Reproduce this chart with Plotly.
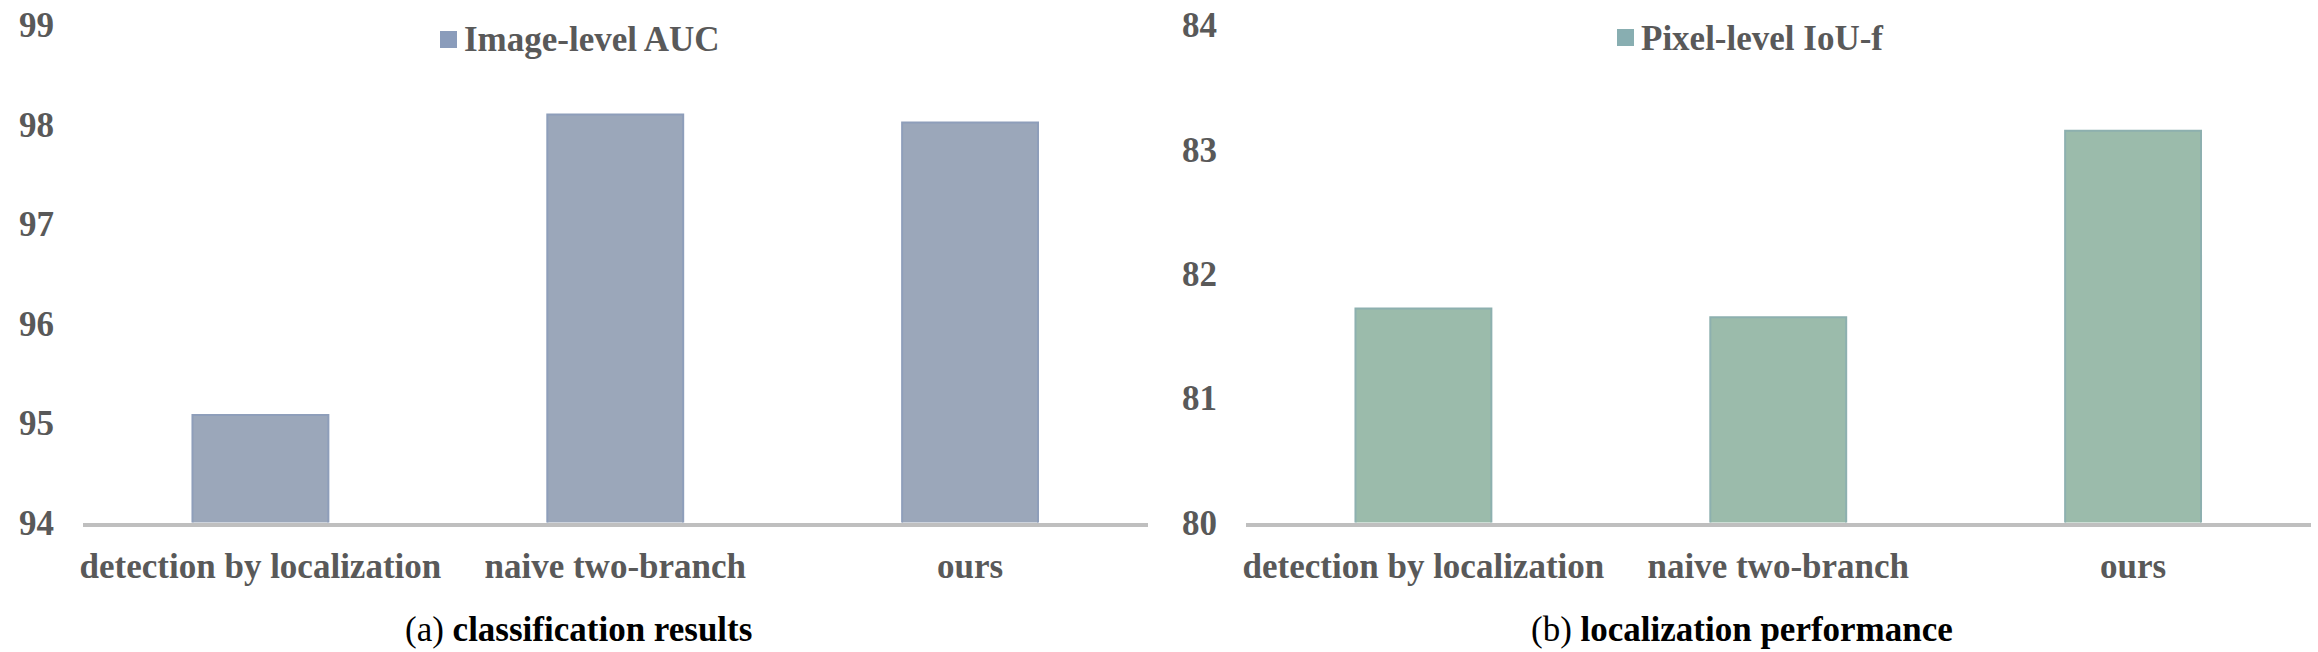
import plotly.graph_objects as go
from plotly.subplots import make_subplots

# Data
categories = ["detection by localization", "naive two-branch", "ours"]
image_auc = [95.08, 98.10, 98.02]
pixel_iou_f = [81.72, 81.65, 83.15]

auc_ticks = [94, 95, 96, 97, 98, 99]
iou_ticks = [80, 81, 82, 83, 84]

W, H = 2318, 652
FONT = "Liberation Serif"
GREY = "#595959"


def px_x(v):
    return v / W


def px_y(v):
    return 1 - v / H


fig = make_subplots(rows=1, cols=2, horizontal_spacing=0.04)

fig.add_trace(go.Bar(
    x=categories, y=image_auc, name="Image-level AUC",
    marker=dict(color="#9BA7BA", line=dict(color="#8E9EBA", width=2)),
    showlegend=False,
), row=1, col=1)

fig.add_trace(go.Bar(
    x=categories, y=pixel_iou_f, name="Pixel-level IoU-f",
    marker=dict(color="#9BBBAB", line=dict(color="#8DB0AF", width=2)),
    showlegend=False,
), row=1, col=2)

tick_font = dict(family=FONT, size=35, color=GREY, weight="bold")

# x axes: only a thick grey base line
fig.update_xaxes(showgrid=False, showline=True, linecolor="#BFBFBF", linewidth=4,
                 ticks="", tickfont=tick_font, ticklabelstandoff=9, automargin=False)
fig.update_yaxes(showgrid=False, showline=False, zeroline=False, ticks="",
                 tickfont=tick_font, ticklabelstandoff=28, automargin=False)

fig.update_layout(
    xaxis=dict(domain=[px_x(83), px_x(1147.5)]),
    xaxis2=dict(domain=[px_x(1246), px_x(2310.5)]),
    yaxis=dict(domain=[px_y(522.5), px_y(25)], range=[94, 99], tickvals=auc_ticks),
    yaxis2=dict(domain=[px_y(522.5), px_y(25)], range=[80, 84], tickvals=iou_ticks),
    bargap=0.617,
    width=W, height=H,
    margin=dict(l=0, r=0, t=0, b=0, autoexpand=False),
    paper_bgcolor="white", plot_bgcolor="white",
    font=dict(family=FONT),
)

# Hand-made legends (square + label) above each panel
legends = [
    (440, 31, "#8A9CBB", "Image-level AUC"),
    (1617, 29, "#88AEB1", "Pixel-level IoU-f"),
]
for x0, y0, col, label in legends:
    fig.add_shape(type="rect", xref="paper", yref="paper",
                  x0=px_x(x0), x1=px_x(x0 + 17), y0=px_y(y0 + 17), y1=px_y(y0),
                  fillcolor=col, line=dict(width=0))
    fig.add_annotation(xref="paper", yref="paper", x=px_x(x0 + 22), y=px_y(y0 + 9),
                       xanchor="left", yanchor="middle", showarrow=False,
                       text=label, font=dict(family=FONT, size=35, color=GREY, weight="bold"))

# Captions under each panel
captions = [(578, "(a) <b>classification results</b>"), (1742, "(b) <b>localization performance</b>")]
for cx, txt in captions:
    fig.add_annotation(xref="paper", yref="paper", x=px_x(cx), y=px_y(629),
                       xanchor="center", yanchor="middle", showarrow=False,
                       text=txt, font=dict(family=FONT, size=35, color="black"))

# drop the default 8px page margin so the figure fills the window exactly
fig.write_html("out.html", config={"displayModeBar": False},
               post_script="document.body.style.margin='0';")
